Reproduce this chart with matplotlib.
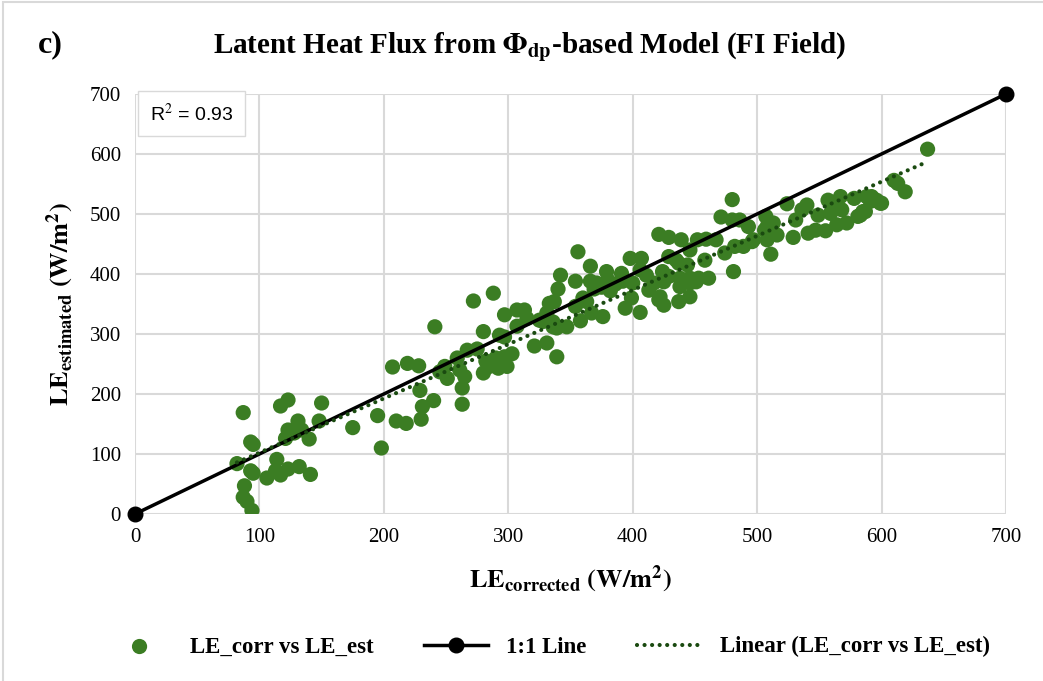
import numpy as np
import matplotlib
matplotlib.use('Agg')
import matplotlib.pyplot as plt
from matplotlib.patches import Rectangle

plt.rcParams['font.family'] = 'Liberation Serif'
plt.rcParams['mathtext.fontset'] = 'stix'

# LE corrected (x) vs LE estimated (y), W/m2
le_corr = [82, 87, 93, 95, 88, 87, 90, 94, 93, 95, 106, 113, 114, 117, 117, 123, 121, 123, 123, 131,
           134, 132, 140, 141, 148, 150, 128,
           175, 195, 198, 207, 210, 218, 219, 228, 230, 229, 231, 240, 241, 245, 249, 251, 259, 261, 265,
           263, 263, 267, 275, 272, 280, 280, 285, 288, 292, 299, 282, 290, 297, 303, 293, 297, 297, 307,
           313, 307, 315, 321, 328, 331, 331, 333, 336, 337, 339, 336, 339, 347, 325, 342, 340, 354, 354,
           356, 358, 360, 363, 366, 366, 367, 369, 375, 382, 371, 380, 386, 392, 376, 379, 391, 394, 398,
           399, 400, 406, 406, 407, 411, 413, 417, 421, 422, 421, 425, 425, 424, 429, 429, 429, 435, 438,
           437, 437, 438, 439, 444, 446, 446, 446, 446, 451, 452, 453, 458, 459, 461, 467, 471, 474, 480,
           480, 481, 482, 486, 489, 493, 496, 497, 506, 507, 508, 508, 511, 513, 516, 524, 529, 531, 536,
           540, 541, 547, 549, 555, 557, 559, 564, 564, 567, 568, 572, 578, 581, 583, 585, 587, 588, 591,
           592, 596, 599, 600, 610, 613, 619, 637]
le_est = [84, 169, 120, 116, 47, 28, 21, 6, 72, 68, 60, 72, 91, 65, 180, 190, 126, 140, 75, 155,
          140, 79, 125, 66, 155, 185, 135,
          144, 164, 110, 245, 155, 151, 251, 247, 158, 206, 179, 189, 312, 237, 246, 226, 260, 240, 229,
          210, 183, 273, 275, 355, 304, 235, 246, 368, 243, 246, 255, 260, 262, 267, 298, 295, 332, 340,
          340, 313, 326, 280, 321, 285, 335, 351, 312, 354, 262, 320, 310, 312, 323, 398, 375, 388, 346,
          437, 322, 360, 354, 413, 388, 335, 375, 378, 372, 385, 390, 383, 388, 329, 404, 401, 343, 426,
          360, 385, 336, 407, 426, 398, 373, 385, 357, 362, 466, 387, 348, 404, 396, 461, 429, 423, 393,
          354, 418, 379, 457, 415, 393, 440, 362, 385, 387, 457, 393, 423, 458, 393, 457, 495, 435, 524,
          490, 404, 446, 490, 446, 479, 454, 457, 473, 496, 479, 457, 433, 485, 465, 517, 461, 490, 507,
          515, 468, 473, 498, 472, 523, 501, 515, 482, 529, 507, 485, 526, 496, 498, 504, 504, 529, 521,
          529, 523, 518, 518, 556, 551, 537, 608]

one_to_one = [0, 700]
r2_text = 'R$^2$ = 0.93'

x = np.array(le_corr)
y = np.array(le_est)
slope, intercept = np.polyfit(x, y, 1)
xfit = np.array([x.min(), x.max()])

green = '#3b7d23'

fig = plt.figure(figsize=(10.43, 6.81), dpi=100)
ax = fig.add_axes([0.1294, 0.2452, 0.8351, 0.6168])

ax.scatter(x, y, s=120, color=green, edgecolors='none', zorder=3, label='LE_corr vs LE_est')
ax.plot(one_to_one, one_to_one, color='black', lw=2.5, marker='o', ms=10.5,
        zorder=4, clip_on=False, label='1:1 Line')
ax.plot(xfit, slope*xfit + intercept, color='#1a4a10', lw=3, linestyle=(0, (0.01, 1.8)),
        dash_capstyle='round', zorder=5, label='Linear (LE_corr vs LE_est)')

ax.set_xlim(0, 700)
ax.set_ylim(0, 700)
ax.set_xticks(range(0, 701, 100))
ax.set_yticks(range(0, 701, 100))
ax.grid(True, color='#d9d9d9', lw=1.5, zorder=0)
ax.set_axisbelow(True)
for s in ax.spines.values():
    s.set_visible(False)
ax.tick_params(length=0, labelsize=15, pad=10)

ax.set_xlabel(r'$\mathbf{LE_{corrected}\ (W/m^2)}$', fontsize=19, labelpad=12)
ax.set_ylabel(r'$\mathbf{LE_{estimated}\ (W/m^2)}$', fontsize=19, labelpad=10)

fig.text(0.508, 0.932, r'Latent Heat Flux from $\mathbf{\Phi_{dp}}$-based Model (FI Field)',
         ha='center', va='center', fontsize=21, fontweight='bold')
fig.text(0.036, 0.935, 'c)', ha='left', va='center', fontsize=23, fontweight='bold')

ax.text(12, 667, r2_text, fontsize=14, family='Liberation Sans', va='center', ha='left',
        bbox=dict(boxstyle='square,pad=0.6', fc='white', ec='#d9d9d9', lw=1), zorder=6)

fig.legend(loc='center', bbox_to_anchor=(0.526, 0.05), ncol=3, frameon=False,
           prop={'weight': 'bold', 'size': 16.5}, handlelength=2.8, columnspacing=2.2,
           handletextpad=0.8)

fig.add_artist(Rectangle((0.003, -0.01), 1.0, 1.007, transform=fig.transFigure,
                         fill=False, ec='#d9d9d9', lw=1.5))

fig.savefig('out.png', dpi=100)
